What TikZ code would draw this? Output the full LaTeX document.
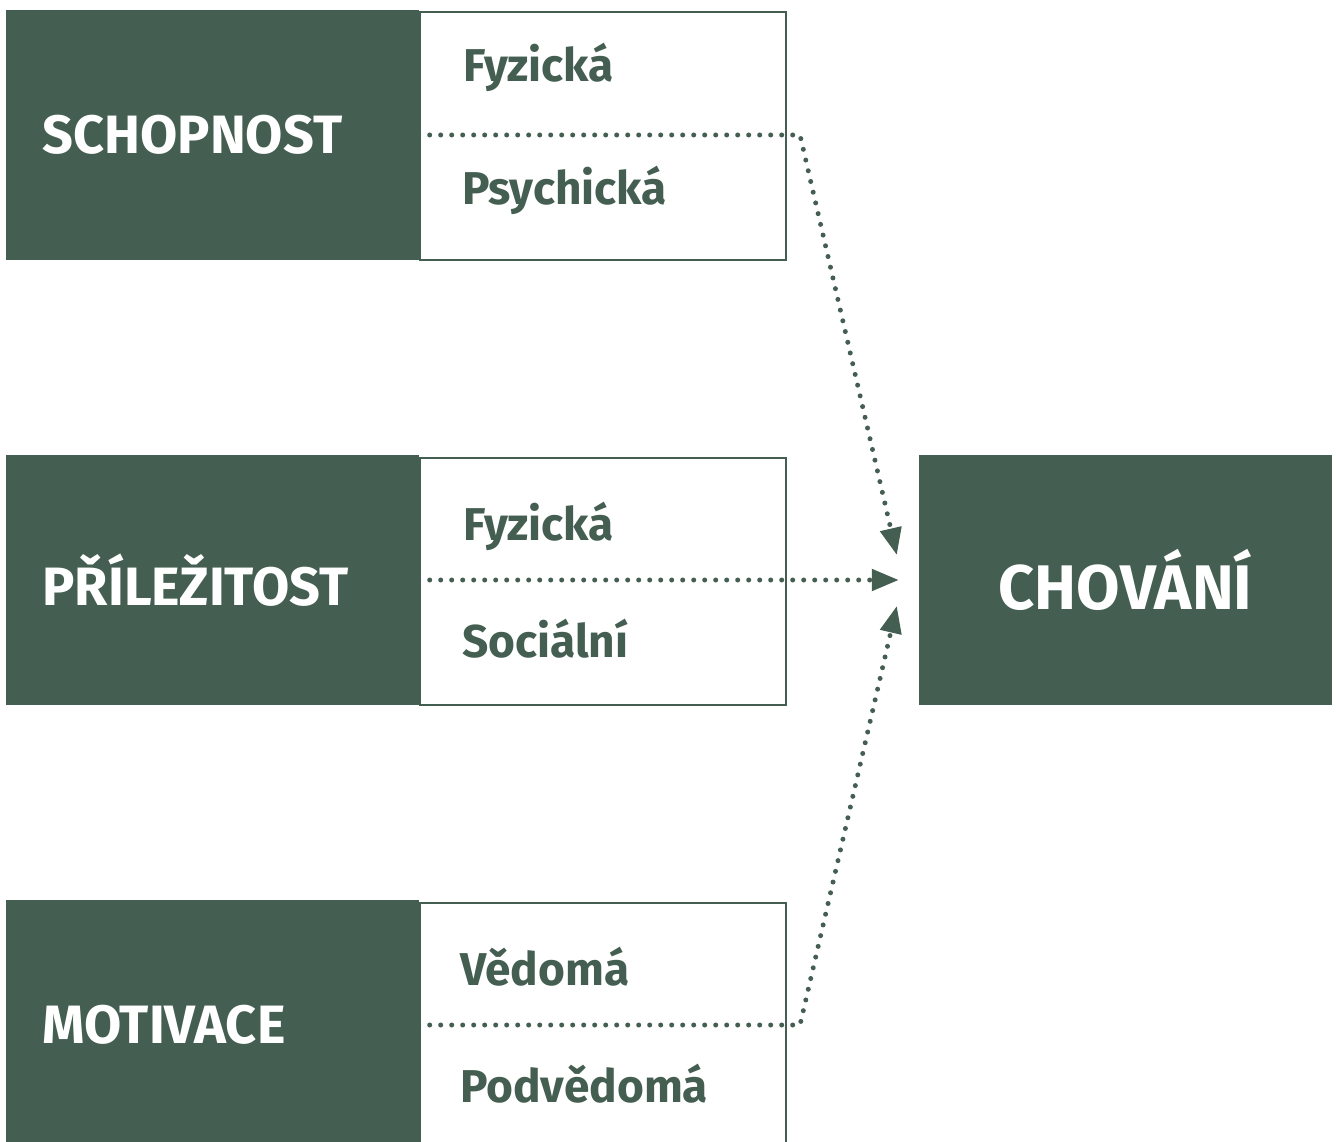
\documentclass[tikz,border=0pt]{standalone}
\usepackage{fontspec}
\setmainfont{Fira Sans}
\usetikzlibrary{arrows.meta,calc}
\definecolor{dkgreen}{HTML}{445F51}
\tikzset{
  darkbox/.style={fill=dkgreen, draw=none, minimum width=413pt, minimum height=250pt,
    text width=339pt, inner xsep=37pt, inner ysep=0pt, align=left, text=white,
    font=\fontsize{54}{60}\selectfont\bfseries},
  whitebox/.style={draw=dkgreen, fill=white, line width=2pt, minimum width=366pt, minimum height=247pt, inner sep=0pt},
  lbl/.style={anchor=base west, inner sep=0pt, text=dkgreen, font=\fontsize{46}{50}\selectfont\bfseries},
  dotline/.style={draw=dkgreen, line width=5pt, line cap=round, dash pattern=on 0pt off 11pt},
  tip/.style={-{Triangle[length=27pt,width=21pt]}},
}
\begin{document}
\begin{tikzpicture}[x=1pt,y=-1pt]
\useasboundingbox (0,0) rectangle (1336,1142);
% row 1
\node[darkbox] (s1) at (212,135) {SCHOPNOST};
\node[whitebox] (w1) at (603,136) {};
\node[lbl] (l1a) at (463,82) {Fyzická};
\node[lbl] (l1b) at (462,205) {Psychická};
% row 2
\node[darkbox] (s2) at (212,580) {PŘÍLEŽITOST};
\node[whitebox] (w2) at (603,581) {};
\node[lbl] (l2a) at (463,540) {Fyzická};
\node[lbl] (l2b) at (462,657) {Sociální};
% row 3
\node[darkbox] (s3) at (212,1025) {MOTIVACE};
\node[whitebox] (w3) at (603,1026) {};
\node[lbl] (l3a) at (460,985) {Vědomá};
\node[lbl] (l3b) at (460,1102) {Podvědomá};
% target
\node[fill=dkgreen, minimum width=413pt, minimum height=250pt, inner sep=0pt, text=white,
  font=\fontsize{63}{66}\selectfont\bfseries] (ch) at (1125.5,580) {CHOVÁNÍ};
% connectors
\coordinate (b1) at (800,135);
\coordinate (b3) at (800,1025);
\draw[dotline,tip] (s1.east) -- (b1) -- ($(ch.west)+(-22,-25)$);
\draw[dotline,tip] (s2.east) -- ($(ch.west)+(-20,0)$);
\draw[dotline,tip] (s3.east) -- (b3) -- ($(ch.west)+(-22,26)$);
\end{tikzpicture}
\end{document}
